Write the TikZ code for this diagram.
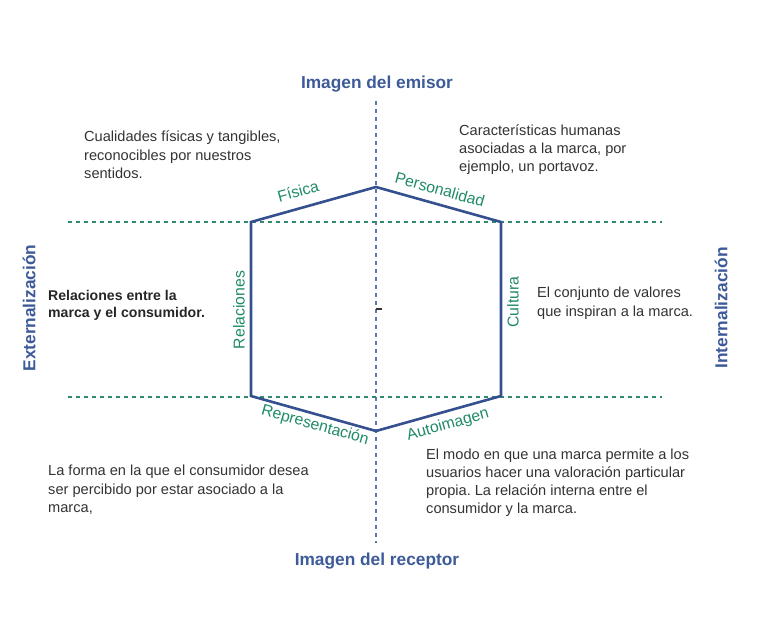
\documentclass[tikz,border=0pt]{standalone}
\usepackage{fontspec}
\setmainfont{Liberation Sans}
\frenchspacing
\definecolor{hexblue}{HTML}{34508F}
\definecolor{titleblue}{HTML}{3D5A99}
\definecolor{axisblue}{HTML}{5B77A8}
\definecolor{lblgreen}{HTML}{1F8A66}
\definecolor{dashgreen}{HTML}{2E8B6E}
\definecolor{bodygrey}{HTML}{333333}
\begin{document}
\begin{tikzpicture}[x=1pt,y=-1pt,
  title/.style={font=\fontsize{17.3}{20}\selectfont\bfseries, text=titleblue, inner sep=0pt},
  lbl/.style={font=\fontsize{15.8}{18}\selectfont, text=lblgreen, inner sep=0pt},
  body/.style={font=\fontsize{14.6}{18.5}\selectfont, text=bodygrey, align=left, anchor=north west, inner sep=0pt},
  hexline/.style={draw=hexblue, line width=2.6pt, line join=miter},
  vaxis/.style={draw=axisblue, line width=1.2pt, dash pattern=on 4pt off 4pt},
  haxis/.style={draw=dashgreen, line width=1.1pt, dash pattern=on 4pt off 4pt}]
\useasboundingbox (0,0) rectangle (768,644);
% axes
\coordinate (vt) at (376,101);
\coordinate (vb) at (376,543);
\coordinate (hl1) at (68,222);
\coordinate (hr1) at (662,222);
\coordinate (hl2) at (68,397);
\coordinate (hr2) at (662,397);
\draw[vaxis] (vt) -- (vb);
\draw[haxis] (hl1) -- (hr1);
\draw[haxis] (hl2) -- (hr2);
% hexagon
\coordinate (pT) at (376,187);
\coordinate (pUR) at (501,222);
\coordinate (pLR) at (501,396);
\coordinate (pB) at (376,431);
\coordinate (pLL) at (251,396);
\coordinate (pUL) at (251,222);
\draw[hexline] (pT) -- (pUR) -- (pLR) -- (pB) -- (pLL) -- (pUL) -- cycle;
% centre tick
\coordinate (c1) at (376,309);
\coordinate (c2) at (382,309);
\draw[black!80, line width=1.2pt] (c1) -- (c2);
% titles
\node[title] (emisor) at (377,84) {Imagen del emisor};
\node[title] (receptor) at (377,561) {Imagen del receptor};
\node[title, rotate=90] (ext) at (29,308) {Externalización};
\node[title, rotate=90] (int) at (721,308) {Internalización};
% side labels
\node[lbl, rotate=15.6] (fisica) at (298,191) {Física};
\node[lbl, rotate=-15.6] (pers) at (440,189.5) {Personalidad};
\node[lbl, rotate=90] (rel) at (239,310) {Relaciones};
\node[lbl, rotate=90] (cult) at (513,302) {Cultura};
\node[lbl, rotate=-15.6] (repr) at (315,425.5) {Representación};
\node[lbl, rotate=15.6] (auto) at (448,425) {Autoimagen};
% texts
\node[body] (t1) at (84,131) {Cualidades físicas y tangibles,\\reconocibles por nuestros\\sentidos.};
\node[body, font=\fontsize{14.6}{18}\selectfont] (t2) at (459,125) {Características humanas\\asociadas a la marca, por\\ejemplo, un portavoz.};
\node[body, font=\fontsize{14.1}{17.5}\selectfont\bfseries, text=black!85] (t3) at (48,290) {Relaciones entre la\\marca y el consumidor.};
\node[body] (t4) at (537,287) {El conjunto de valores\\que inspiran a la marca.};
\node[body] (t5) at (48,465) {La forma en la que el consumidor desea\\ser percibido por estar asociado a la\\marca,};
\node[body, font=\fontsize{14.6}{18}\selectfont] (t6) at (426,449) {El modo en que una marca permite a los\\usuarios hacer una valoración particular\\propia. La relación interna entre el\\consumidor y la marca.};
\end{tikzpicture}
\end{document}
